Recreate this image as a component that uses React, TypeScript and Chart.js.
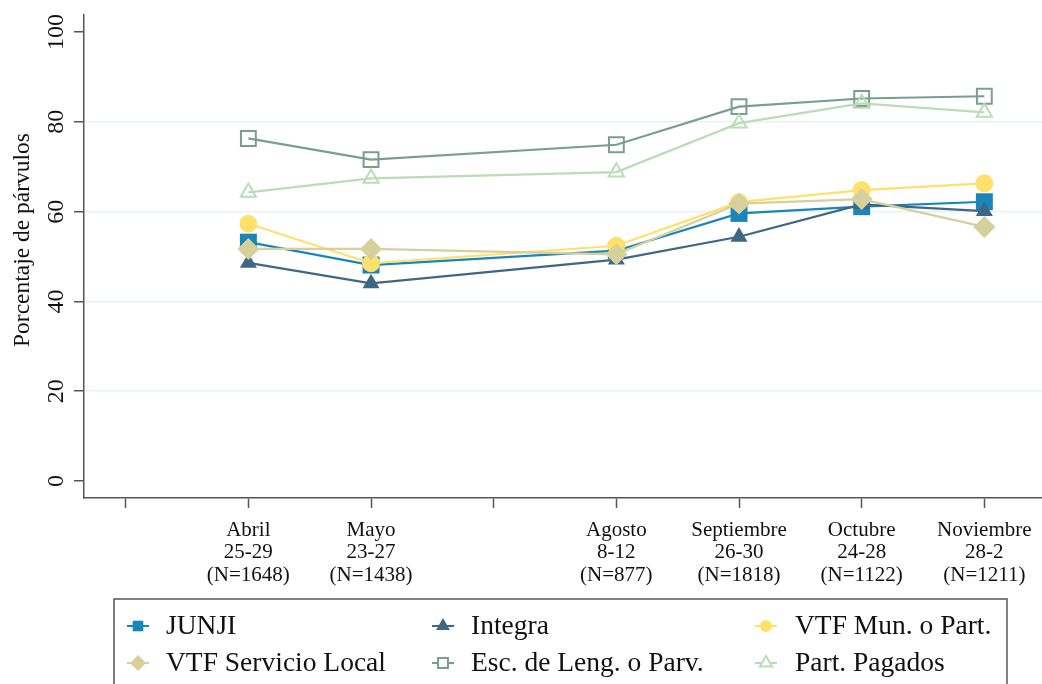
import React, { useEffect, useRef } from "react";
import { Chart, registerables } from "chart.js";

Chart.register(...registerables);

// ---- data ----
const xPositions = [1, 2, 4, 5, 6, 7];
const months = ["Abril", "Mayo", "Agosto", "Septiembre", "Octubre", "Noviembre"];
const dayRanges = ["25-29", "23-27", "8-12", "26-30", "24-28", "28-2"];
const sampleSizes = ["(N=1648)", "(N=1438)", "(N=877)", "(N=1818)", "(N=1122)", "(N=1211)"];
const xTickValues = [0, 1, 2, 3, 4, 5, 6, 7];
const yTickValues = [0, 20, 40, 60, 80, 100];

const junji = [53.2, 48.1, 51.3, 59.6, 61.1, 62.2];
const integra = [48.6, 44.0, 49.3, 54.4, 61.6, 60.1];
const vtfMun = [57.3, 48.5, 52.4, 62.1, 64.8, 66.3];
const vtfServ = [51.7, 51.7, 50.5, 61.8, 62.8, 56.6];
const escLeng = [76.3, 71.6, 74.9, 83.4, 85.2, 85.7];
const partPag = [64.3, 67.4, 68.8, 79.7, 84.1, 82.1];

const seriesNames = [
  "JUNJI",
  "Integra",
  "VTF Mun. o Part.",
  "VTF Servicio Local",
  "Esc. de Leng. o Parv.",
  "Part. Pagados",
];
const seriesValues = [junji, integra, vtfMun, vtfServ, escLeng, partPag];
const seriesColors = ["#1A86B8", "#3E6783", "#FFE06B", "#D5D09C", "#7A9E8E", "#BADCB6"];
const seriesShapes = ["rect", "triangle", "circle", "rectRot", "rect", "triangle"];
const seriesHollow = [false, false, false, false, true, true];
const seriesRadius = [12, 9.8, 9, 11, 10.5, 8.8];

const SERIF = "'Liberation Serif', 'Times New Roman', serif";

function drawMarker(
  ctx: CanvasRenderingContext2D,
  shape: string,
  x: number,
  y: number,
  r: number,
  color: string,
  hollow: boolean
) {
  ctx.beginPath();
  if (shape === "rect") {
    const s = Math.SQRT1_2 * r;
    ctx.rect(x - s, y - s, 2 * s, 2 * s);
  } else if (shape === "rectRot") {
    ctx.moveTo(x, y - r);
    ctx.lineTo(x + r, y);
    ctx.lineTo(x, y + r);
    ctx.lineTo(x - r, y);
    ctx.closePath();
  } else if (shape === "triangle") {
    ctx.moveTo(x, y - r);
    ctx.lineTo(x + 0.866 * r, y + r / 2);
    ctx.lineTo(x - 0.866 * r, y + r / 2);
    ctx.closePath();
  } else {
    ctx.arc(x, y, r, 0, Math.PI * 2);
  }
  if (hollow) {
    ctx.fillStyle = "#ffffff";
    ctx.fill();
    ctx.lineWidth = 2;
    ctx.strokeStyle = color;
    ctx.stroke();
  } else {
    ctx.fillStyle = color;
    ctx.fill();
  }
}

const decorPlugin = {
  id: "decor",
  afterDraw(chart: any) {
    const ctx: CanvasRenderingContext2D = chart.ctx;
    const ys = chart.scales.y;
    ctx.save();
    // y tick labels (rotated)
    ctx.fillStyle = "#111";
    ctx.font = `24px ${SERIF}`;
    ctx.textAlign = "center";
    ctx.textBaseline = "alphabetic";
    for (const v of yTickValues) {
      const py = ys.getPixelForValue(v);
      ctx.save();
      ctx.translate(63, py);
      ctx.rotate(-Math.PI / 2);
      ctx.fillText(String(v), 0, 0);
      ctx.restore();
    }
    // y title
    ctx.save();
    ctx.font = `23.5px ${SERIF}`;
    ctx.translate(29, 240);
    ctx.rotate(-Math.PI / 2);
    ctx.fillText("Porcentaje de párvulos", 0, 0);
    ctx.restore();

    // legend box
    ctx.lineWidth = 1.5;
    ctx.strokeStyle = "#555";
    ctx.fillStyle = "#fff";
    ctx.fillRect(114, 599, 893, 110);
    ctx.strokeRect(114, 599, 893, 110);

    const colMarkerX = [138, 443, 766];
    const colTextX = [166, 471, 795];
    const rowY = [626, 663];
    const legendR = [7.5, 8, 6, 8, 7, 7];
    ctx.font = `27.5px ${SERIF}`;
    ctx.textAlign = "left";
    ctx.textBaseline = "middle";
    seriesNames.forEach((name, i) => {
      const col = i % 3;
      const row = Math.floor(i / 3);
      const cx = colMarkerX[col];
      const cy = rowY[row];
      ctx.beginPath();
      ctx.strokeStyle = seriesColors[i];
      ctx.lineWidth = 2;
      ctx.moveTo(cx - 11, cy);
      ctx.lineTo(cx + 11, cy);
      ctx.stroke();
      drawMarker(ctx, seriesShapes[i], cx, cy, legendR[i], seriesColors[i], seriesHollow[i]);
      ctx.fillStyle = "#111";
      ctx.fillText(name, colTextX[col], cy + 1);
    });
    ctx.restore();
  },
};

export default function App() {
  const canvasRef = useRef<HTMLCanvasElement | null>(null);

  useEffect(() => {
    if (!canvasRef.current) return;
    const datasets = seriesNames.map((name, i) => ({
      label: name,
      data: xPositions.map((x, j) => ({ x, y: seriesValues[i][j] })),
      borderColor: seriesColors[i],
      backgroundColor: seriesColors[i],
      pointBackgroundColor: seriesHollow[i] ? "rgba(255,255,255,0)" : seriesColors[i],
      pointBorderColor: seriesColors[i],
      pointBorderWidth: seriesHollow[i] ? 2 : 0,
      pointStyle: seriesShapes[i],
      pointRadius: seriesRadius[i],
      borderWidth: 2.2,
      tension: 0,
      order: seriesNames.length - i,
    }));

    const chart = new Chart(canvasRef.current, {
      type: "line",
      data: { datasets },
      plugins: [decorPlugin],
      options: {
        responsive: false,
        animation: false,
        layout: { autoPadding: false, padding: { top: 15, right: 0, bottom: 0, left: 0 } },
        plugins: {
          legend: { display: false },
          tooltip: { enabled: false },
          title: { display: false },
        },
        scales: {
          x: {
            type: "linear",
            min: -0.34,
            max: 7.47,
            afterBuildTicks: (s: any) => {
              s.ticks = xTickValues.map((v) => ({ value: v }));
            },
            afterFit: (s: any) => {
              s.height = 186;
              s.paddingLeft = 0;
              s.paddingRight = 0;
            },
            ticks: {
              autoSkip: false,
              maxRotation: 0,
              minRotation: 0,
              padding: 11,
              color: "#111",
              font: { family: SERIF, size: 21, lineHeight: 1.07 },
              callback: (value: any) => {
                const i = xPositions.indexOf(Number(value));
                return i >= 0 ? [months[i], dayRanges[i], sampleSizes[i]] : "";
              },
            },
            grid: {
              drawOnChartArea: false,
              drawTicks: true,
              tickLength: 10,
              tickColor: "#555",
              tickWidth: 1.5,
            },
            border: { display: true, color: "#555", width: 1.5 },
          },
          y: {
            type: "linear",
            min: -3.79,
            max: 103.8,
            afterBuildTicks: (s: any) => {
              s.ticks = yTickValues.map((v) => ({ value: v }));
            },
            afterFit: (s: any) => {
              s.width = 84;
              s.paddingTop = 0;
              s.paddingBottom = 0;
            },
            ticks: { display: false },
            grid: {
              drawTicks: true,
              tickLength: 10,
              tickColor: "#555",
              tickWidth: 1.5,
              lineWidth: 1.5,
              color: (c: any) =>
                c.tick && c.tick.value > 0 && c.tick.value < 100 ? "#E8F1F3" : "rgba(0,0,0,0)",
            },
            border: { display: true, color: "#555", width: 1.5 },
          },
        },
      },
    });
    return () => chart.destroy();
  }, []);

  return (
    <div style={{ position: "absolute", left: 0, top: 0, width: 1042, height: 684, background: "#fff" }}>
      <canvas ref={canvasRef} width={1042} height={684} style={{ display: "block" }} />
    </div>
  );
}
